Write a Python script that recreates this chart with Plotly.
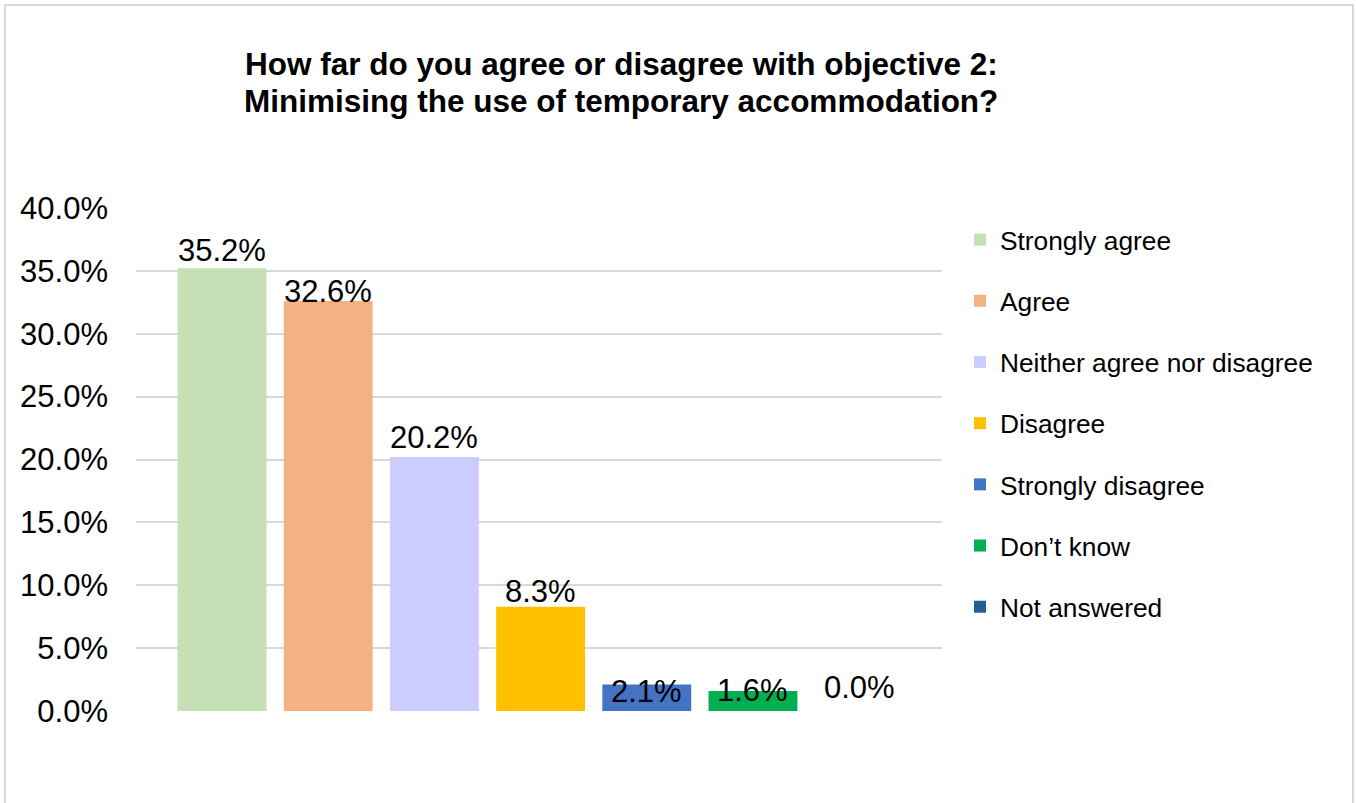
import plotly.graph_objects as go

categories = ["Strongly agree", "Agree", "Neither agree nor disagree", "Disagree",
              "Strongly disagree", "Don\u2019t know", "Not answered"]
values = [35.2, 32.6, 20.2, 8.3, 2.1, 1.6, 0.0]
colors = ["#C5E0B4", "#F4B183", "#CCCCFF", "#FFC000", "#4472C4", "#00B050", "#255E91"]
label_shift = [18, 10, 19, 15, -7, 0, 24]
tick_vals = [0, 5, 10, 15, 20, 25, 30, 35, 40]
tick_text = ["0.0%", "5.0%", "10.0%", "15.0%", "20.0%", "25.0%", "30.0%", "35.0%", "40.0%"]
title_lines = ["How far do you agree or disagree with objective 2:",
               "Minimising the use of temporary accommodation?"]

W, H = 1356, 803
L, R, T, B = 136, 414, 208, 92
pw, ph = W - L - R, H - T - B
FONT = "Liberation Sans"


def px_x(p):
    return (p - L) / pw


def px_y(p):
    return (H - B - p) / ph


fig = go.Figure()
for i, (c, v, col) in enumerate(zip(categories, values, colors)):
    fig.add_trace(go.Bar(x=[c], y=[v], name=c, marker=dict(color=col, line=dict(width=0)),
                         width=0.837, legendgroup=c, showlegend=True))
    fig.add_annotation(x=c, y=v, text=f"{v:.1f}%", showarrow=False, yanchor="middle",
                       yshift=label_shift[i], font=dict(size=31, color="black", family=FONT))

for line, yc in zip(title_lines, [64, 101]):
    fig.add_annotation(xref="paper", yref="paper", x=px_x(621), y=px_y(yc),
                       text=f"<b>{line}</b>", showarrow=False,
                       font=dict(size=31.5, color="black", family=FONT),
                       xanchor="center", yanchor="middle")

fig.add_shape(type="rect", xref="paper", yref="paper",
              x0=px_x(5), x1=px_x(1353), y0=px_y(815), y1=px_y(5),
              line=dict(color="#D9D9D9", width=2), fillcolor="rgba(0,0,0,0)", layer="below")

fig.update_layout(
    width=W, height=H,
    margin=dict(l=L, r=R, t=T, b=B, autoexpand=False),
    paper_bgcolor="white", plot_bgcolor="white",
    barmode="overlay",
    showlegend=True,
    legend=dict(x=px_x(960), y=px_y(216), xanchor="left", yanchor="top",
                font=dict(size=26.3, color="black", family=FONT),
                tracegroupgap=24, bgcolor="rgba(0,0,0,0)", itemclick=False),
    font=dict(family=FONT, color="black"),
    xaxis=dict(showticklabels=False, showgrid=False, zeroline=False, showline=False,
               ticks="", range=[-0.81, 6.78]),
    yaxis=dict(range=[0, 40], tickvals=tick_vals, ticktext=tick_text,
               showgrid=True, gridcolor="#D9D9D9", gridwidth=2, zeroline=False,
               showline=False, ticks="", tickfont=dict(size=31, color="black", family=FONT),
               ticklabelstandoff=27),
)

fig.write_html("out.html", config={"displayModeBar": False},
               post_script="document.body.style.margin='0';")
